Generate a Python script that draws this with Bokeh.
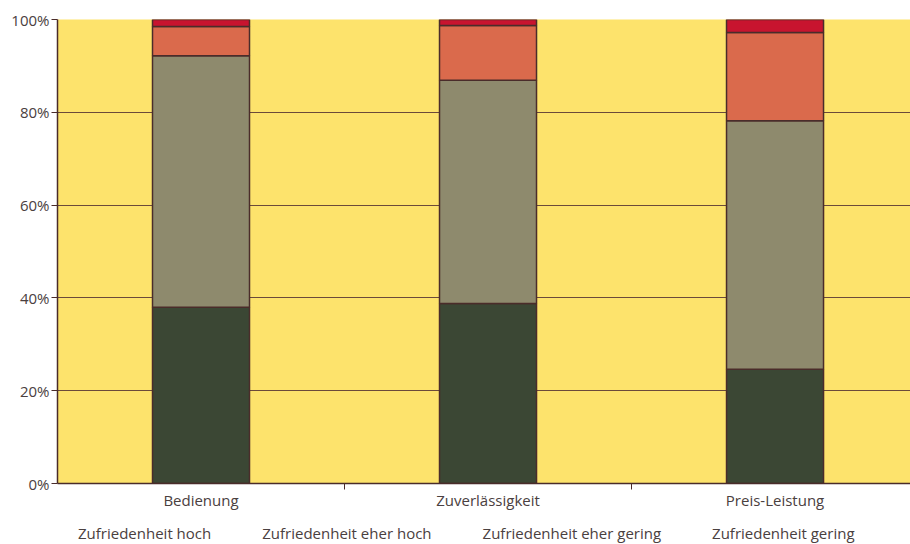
from bokeh.plotting import figure
from bokeh.layouts import column
from bokeh.models import FixedTicker, Legend, LegendItem, Range1d, ColumnDataSource
from bokeh.embed import file_html
from bokeh.resources import INLINE

categories = ["Bedienung", "Zuverlässigkeit", "Preis-Leistung"]
series = ["Zufriedenheit hoch", "Zufriedenheit eher hoch",
          "Zufriedenheit eher gering", "Zufriedenheit gering"]
hoch = [38.0, 38.8, 24.6]
eher_hoch = [54.2, 48.1, 53.6]
eher_gering = [6.3, 11.8, 19.0]
gering = [1.5, 1.3, 2.8]
y_ticks = [0, 20, 40, 60, 80, 100]

colors = ["#3b4734", "#8e8a6d", "#da6a4c", "#c8142f"]
edge = "#4a2c2a"
font = "Open Sans"
label_color = "#4a4040"

xs = [i + 0.5 for i in range(len(categories))]
source = ColumnDataSource(dict(x=xs, hoch=hoch, eher_hoch=eher_hoch,
                               eher_gering=eher_gering, gering=gering))

p = figure(width=910, height=516, output_backend="svg", toolbar_location=None,
           x_range=Range1d(0, 2.972), y_range=Range1d(0, 100),
           min_border_left=57, min_border_right=0, min_border_top=19,
           min_border_bottom=33)
p.background_fill_color = "#fde36c"
p.border_fill_color = "white"
p.outline_line_color = None

p.vbar_stack(["hoch", "eher_hoch", "eher_gering", "gering"], x="x",
             width=0.338, source=source, fill_color=colors,
             line_color=edge, line_width=1.5)

p.xaxis.ticker = FixedTicker(ticks=xs, minor_ticks=[1, 2])
p.xaxis.major_label_overrides = {x: c for x, c in zip(xs, categories)}
p.xaxis.major_tick_out = 0
p.xaxis.major_tick_in = 0
p.xaxis.minor_tick_out = 6
p.xaxis.minor_tick_in = 0
p.xaxis.minor_tick_line_color = edge
p.xaxis.axis_line_color = edge
p.xaxis.axis_line_width = 1.5
p.xaxis.major_label_standoff = 0
p.xaxis.major_label_text_font = font
p.xaxis.major_label_text_font_size = "15px"
p.xaxis.major_label_text_color = label_color

p.yaxis.ticker = FixedTicker(ticks=y_ticks)
p.yaxis.major_label_overrides = {t: f"{t}%" for t in y_ticks}
p.yaxis.major_tick_out = 6
p.yaxis.major_tick_in = 0
p.yaxis.minor_tick_line_color = None
p.yaxis.major_tick_line_color = edge
p.yaxis.axis_line_color = edge
p.yaxis.axis_line_width = 1.5
p.yaxis.major_label_standoff = 2
p.yaxis.major_label_text_font = font
p.yaxis.major_label_text_font_size = "15px"
p.yaxis.major_label_text_color = label_color

p.xgrid.grid_line_color = None
p.ygrid.grid_line_color = "#6b4a3a"
p.ygrid.grid_line_width = 1

# Legend strip under the chart: swatch renderers carry only the series colours
leg = figure(width=910, height=28, output_backend="svg", toolbar_location=None,
             x_axis_type=None, y_axis_type=None,
             x_range=Range1d(0, 1), y_range=Range1d(0, 1),
             min_border_left=0, min_border_right=0, min_border_top=0,
             min_border_bottom=0)
leg.outline_line_color = None
leg.grid.visible = False
swatches = [leg.vbar(x=[], top=[], width=0.1, fill_color=c, line_color=edge,
                     line_width=1.2)
            for c in colors]

legend = Legend(items=[LegendItem(label=s, renderers=[r]) for s, r in zip(series, swatches)],
                orientation="horizontal", border_line_color=None,
                background_fill_alpha=0, label_text_font=font,
                label_text_font_size="15px", label_text_color=label_color,
                glyph_width=13, glyph_height=13, label_standoff=8,
                spacing=30, padding=0, margin=0, location=(0, 1),
                label_height=15)
leg.add_layout(legend, "center")

open("out.html", "w").write(file_html(column(p, leg, spacing=0), INLINE))
